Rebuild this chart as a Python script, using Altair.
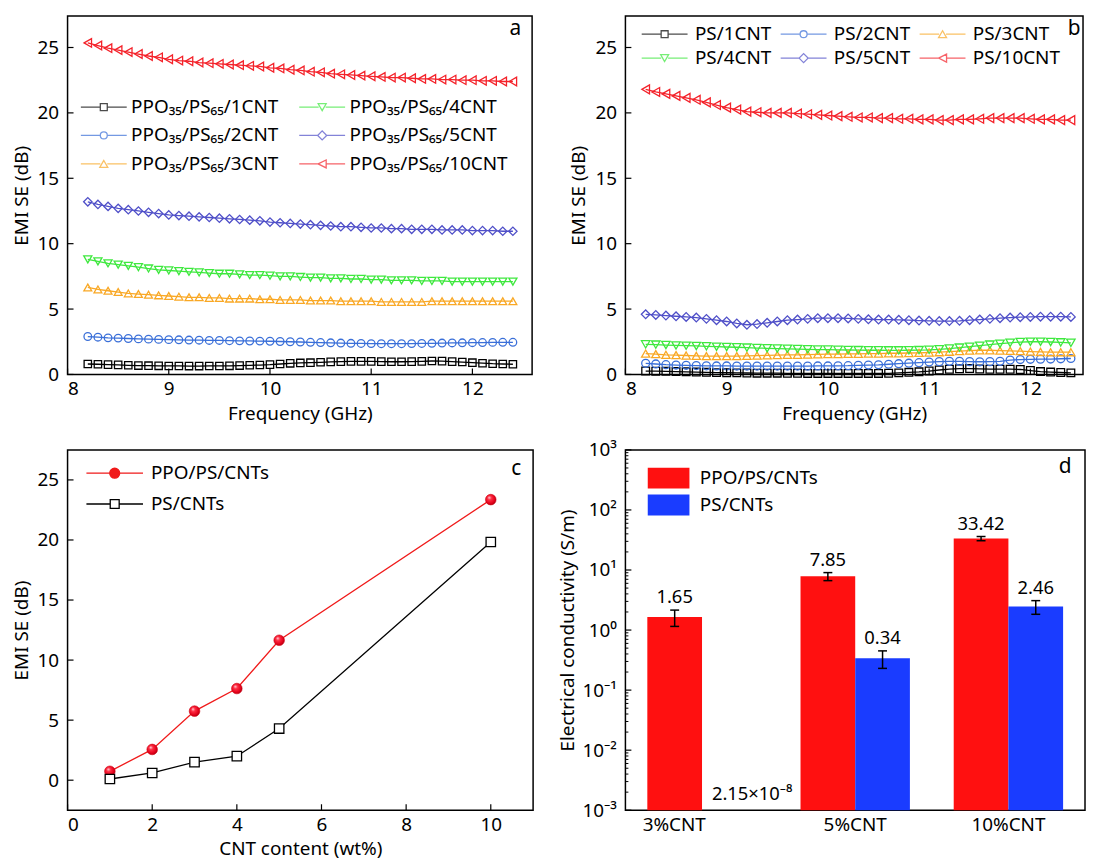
import json
import altair as alt
import pandas as pd

# ---------------- data ----------------
freq = [8.2, 8.3, 8.4, 8.5, 8.6, 8.7, 8.8, 8.9, 9.0, 9.1, 9.2, 9.3, 9.4, 9.5, 9.6,
        9.7, 9.8, 9.9, 10.0, 10.1, 10.2, 10.3, 10.4, 10.5, 10.6, 10.7, 10.8, 10.9,
        11.0, 11.1, 11.2, 11.3, 11.4, 11.5, 11.6, 11.7, 11.8, 11.9, 12.0, 12.1,
        12.2, 12.3, 12.4]

a_labels = ["PPO₃₅/PS₆₅/1CNT", "PPO₃₅/PS₆₅/2CNT", "PPO₃₅/PS₆₅/3CNT",
            "PPO₃₅/PS₆₅/4CNT", "PPO₃₅/PS₆₅/5CNT", "PPO₃₅/PS₆₅/10CNT"]
a_1 = [0.8, 0.78, 0.75, 0.73, 0.7, 0.68, 0.67, 0.66, 0.65, 0.65, 0.64, 0.64, 0.65, 0.65,
       0.66, 0.68, 0.7, 0.72, 0.75, 0.8, 0.85, 0.88, 0.9, 0.93, 0.96, 0.98, 1.0, 1.0,
       1.0, 0.98, 0.97, 0.97, 0.98, 1.0, 1.03, 1.02, 0.98, 0.95, 0.9, 0.86, 0.82, 0.8, 0.78]
a_2 = [2.9, 2.85, 2.8, 2.78, 2.75, 2.72, 2.7, 2.68, 2.66, 2.65, 2.63, 2.62, 2.6, 2.6,
       2.58, 2.57, 2.56, 2.55, 2.54, 2.52, 2.5, 2.48, 2.46, 2.44, 2.42, 2.4, 2.38, 2.37,
       2.36, 2.35, 2.35, 2.35, 2.36, 2.37, 2.38, 2.4, 2.41, 2.42, 2.43, 2.44, 2.45, 2.46, 2.46]
a_3 = [6.65, 6.5, 6.4, 6.3, 6.2, 6.15, 6.1, 6.05, 6.0, 5.95, 5.9, 5.9, 5.85, 5.85,
       5.8, 5.8, 5.8, 5.75, 5.75, 5.7, 5.7, 5.7, 5.65, 5.65, 5.65, 5.6, 5.6, 5.6,
       5.6, 5.55, 5.55, 5.55, 5.55, 5.55, 5.6, 5.6, 5.6, 5.6, 5.6, 5.6, 5.6, 5.6, 5.6]
a_4 = [8.8, 8.65, 8.5, 8.4, 8.3, 8.2, 8.1, 8.0, 7.95, 7.9, 7.85, 7.8, 7.75, 7.7,
       7.7, 7.65, 7.6, 7.6, 7.55, 7.5, 7.5, 7.45, 7.4, 7.4, 7.35, 7.35, 7.3, 7.3,
       7.25, 7.25, 7.2, 7.2, 7.2, 7.15, 7.15, 7.15, 7.1, 7.1, 7.1, 7.1, 7.1, 7.1, 7.1]
a_5 = [13.2, 13.0, 12.85, 12.7, 12.6, 12.5, 12.4, 12.3, 12.2, 12.15, 12.1, 12.05, 12.0, 11.95,
       11.9, 11.85, 11.8, 11.75, 11.65, 11.6, 11.55, 11.5, 11.45, 11.4, 11.35, 11.3, 11.3, 11.25,
       11.2, 11.2, 11.15, 11.15, 11.1, 11.1, 11.1, 11.05, 11.05, 11.05, 11.0, 11.0, 11.0, 10.95, 10.95]
a_10 = [25.35, 25.15, 24.95, 24.8, 24.65, 24.5, 24.35, 24.25, 24.1, 24.0, 23.95, 23.85, 23.8, 23.75,
        23.7, 23.65, 23.6, 23.55, 23.45, 23.4, 23.3, 23.25, 23.15, 23.1, 23.0, 22.95, 22.9, 22.85,
        22.8, 22.75, 22.7, 22.7, 22.65, 22.6, 22.6, 22.55, 22.55, 22.5, 22.5, 22.45, 22.45, 22.4, 22.4]

b_labels = ["PS/1CNT", "PS/2CNT", "PS/3CNT", "PS/4CNT", "PS/5CNT", "PS/10CNT"]
b_1 = [0.26, 0.25, 0.24, 0.22, 0.2, 0.18, 0.16, 0.14, 0.13, 0.12, 0.11, 0.1, 0.1, 0.1,
       0.09, 0.09, 0.08, 0.08, 0.08, 0.08, 0.08, 0.08, 0.08, 0.08, 0.09, 0.12, 0.16, 0.2,
       0.26, 0.34, 0.4, 0.44, 0.45, 0.42, 0.4, 0.4, 0.4, 0.38, 0.3, 0.22, 0.18, 0.15, 0.12]
b_2 = [0.85, 0.8, 0.75, 0.72, 0.7, 0.68, 0.66, 0.65, 0.65, 0.64, 0.64, 0.64, 0.64, 0.64,
       0.64, 0.64, 0.64, 0.65, 0.65, 0.66, 0.67, 0.7, 0.72, 0.74, 0.78, 0.82, 0.86, 0.9,
       0.95, 0.98, 1.0, 1.0, 0.98, 0.97, 0.98, 1.0, 1.1, 1.14, 1.16, 1.17, 1.18, 1.2, 1.22]
b_3 = [1.6, 1.55, 1.5, 1.48, 1.45, 1.42, 1.4, 1.4, 1.4, 1.4, 1.42, 1.44, 1.46, 1.48,
       1.5, 1.5, 1.52, 1.54, 1.55, 1.56, 1.57, 1.58, 1.6, 1.6, 1.62, 1.62, 1.64, 1.65,
       1.68, 1.7, 1.74, 1.78, 1.82, 1.85, 1.85, 1.82, 1.8, 1.78, 1.75, 1.72, 1.7, 1.7, 1.7]
b_4 = [2.3, 2.28, 2.25, 2.22, 2.2, 2.18, 2.15, 2.12, 2.1, 2.08, 2.05, 2.02, 2.0, 1.98,
       1.96, 1.94, 1.92, 1.9, 1.9, 1.88, 1.87, 1.86, 1.85, 1.85, 1.84, 1.84, 1.85, 1.86,
       1.88, 1.92, 1.98, 2.05, 2.12, 2.2, 2.28, 2.35, 2.42, 2.48, 2.5, 2.5, 2.48, 2.45, 2.42]
b_5 = [4.6, 4.55, 4.5, 4.45, 4.4, 4.35, 4.25, 4.15, 4.05, 3.9, 3.8, 3.85, 3.95, 4.05,
       4.15, 4.2, 4.25, 4.3, 4.3, 4.3, 4.28, 4.25, 4.22, 4.2, 4.2, 4.18, 4.15, 4.12,
       4.1, 4.08, 4.08, 4.1, 4.15, 4.2, 4.25, 4.3, 4.35, 4.38, 4.4, 4.42, 4.42, 4.42, 4.4]
b_10 = [21.8, 21.6, 21.45, 21.3, 21.15, 21.0, 20.8, 20.6, 20.4, 20.25, 20.1, 20.05, 20.0, 20.0,
        20.0, 19.95, 19.9, 19.85, 19.8, 19.75, 19.7, 19.65, 19.65, 19.6, 19.6, 19.55, 19.55, 19.5,
        19.5, 19.45, 19.45, 19.5, 19.5, 19.55, 19.6, 19.6, 19.6, 19.6, 19.55, 19.5, 19.5, 19.45, 19.45]

ab_ticks_x = [8, 9, 10, 11, 12]
ab_ticks_y = [0, 5, 10, 15, 20, 25]

c_labels = ["PPO/PS/CNTs", "PS/CNTs"]
c_x = [1, 2, 3, 4, 5, 10]
c_ppo = [0.74, 2.56, 5.75, 7.63, 11.65, 23.36]
c_ps = [0.1, 0.6, 1.5, 2.0, 4.3, 19.83]
c_ticks_x = [0, 2, 4, 6, 8, 10]
c_ticks_y = [0, 5, 10, 15, 20, 25]

d_cats = ["3%CNT", "5%CNT", "10%CNT"]
d_series = ["PPO/PS/CNTs", "PS/CNTs"]
d_ppo = [1.65, 7.85, 33.42]
d_ppo_err = [0.5, 1.2, 2.7]
d_ppo_txt = ["1.65", "7.85", "33.42"]
d_ps = [2.15e-8, 0.34, 2.46]
d_ps_err = [0.0, 0.11, 0.63]
d_ps_txt = ["2.15×10⁻⁸", "0.34", "2.46"]
d_ticks = [1e-3, 1e-2, 1e-1, 1e0, 1e1, 1e2, 1e3]
d_tick_labels = ["10⁻³", "10⁻²", "10⁻¹", "10⁰", "10¹", "10²", "10³"]
d_minor = [m * 10.0 ** e for e in range(-3, 3) for m in range(2, 10)]

# ---------------- styles ----------------
FONT = "Noto Sans"
LAB = 19
series_colors = ["#000000", "#3a6fd8", "#f9a825", "#3ee83e", "#4f4fc8", "#f4222a"]
series_shapes = ["square", "circle", "triangle-up", "triangle-down", "diamond", "triangle-left"]
sizes_a = [55, 75, 100, 100, 100, 100]
sizes_b = [60, 80, 130, 150, 115, 100]

marker_paths = {
    "square": "M-1,-1H1V1H-1Z",
    "circle": "M1,0A1,1,0,1,1,-1,0A1,1,0,1,1,1,0Z",
    "triangle-up": "M0,-1L-1.15,1L1.15,1Z",
    "triangle-down": "M0,1L-1.15,-1L1.15,-1Z",
    "diamond": "M-1.3,0L0,-1.3L1.3,0L0,1.3Z",
    "triangle-left": "M-1.15,0L1.15,-1.15L1.15,1.15Z",
}


def lined(shape, half):
    return f"M-{half},0H-1M1,0H{half}" + marker_paths[shape]


def long_df(labels, arrays):
    rows = []
    for lab, arr in zip(labels, arrays):
        for f, v in zip(freq, arr):
            rows.append({"f": f, "v": v, "s": lab})
    return pd.DataFrame(rows)


def tick_layers(xvals, yvals, X, Y, xf, yf, H, L=6):
    layers = []
    if yvals:
        layers.append(alt.Chart(pd.DataFrame({yf: yvals})).mark_rule(color="black", strokeWidth=1.2)
                      .encode(y=Y, x=alt.value(0), x2=alt.value(L)))
    if xvals:
        layers.append(alt.Chart(pd.DataFrame({xf: xvals})).mark_rule(color="black", strokeWidth=1.2)
                      .encode(x=X, y=alt.value(H), y2=alt.value(H - L)))
    return layers


def letter(t, x, y):
    return alt.Chart(pd.DataFrame({"t": [t]})).mark_text(
        fontSize=21, font=FONT, align="center", baseline="middle", color="black"
    ).encode(text="t:N", x=alt.value(x), y=alt.value(y))


def freq_panel(labels, arrays, W, H, xmax, sizes, leg_order, cols, lx, ly, colpad, rowpad, lofs, tag, tagx, tagy):
    df = long_df(labels, arrays)
    xs = alt.Scale(domain=[8, xmax], nice=False, zero=False)
    ys = alt.Scale(domain=[0, 27.4], nice=False)
    X = alt.X("f:Q", scale=xs, axis=alt.Axis(values=ab_ticks_x, title="Frequency (GHz)"))
    Y = alt.Y("v:Q", scale=ys, axis=alt.Axis(values=ab_ticks_y, title="EMI SE (dB)"))
    cscale = alt.Scale(domain=labels, range=series_colors)
    lines = alt.Chart(df).mark_line(strokeWidth=1.3).encode(
        x=X, y=Y, color=alt.Color("s:N", scale=cscale, legend=None))
    pts = alt.Chart(df).mark_point(filled=False, strokeWidth=1.3, opacity=1).encode(
        x=X, y=Y,
        color=alt.Color("s:N", scale=cscale, legend=None),
        shape=alt.Shape("s:N", scale=alt.Scale(domain=labels, range=series_shapes), legend=None),
        size=alt.Size("s:N", scale=alt.Scale(domain=labels, range=sizes), legend=None))
    idx = [labels.index(s) for s in leg_order]
    leg = alt.Legend(orient="none", legendX=lx, legendY=ly, columns=cols, title=None,
                     columnPadding=colpad, rowPadding=rowpad, labelFontSize=LAB, labelFont=FONT,
                     labelLimit=500, symbolSize=49, symbolStrokeWidth=1.3, labelOffset=lofs,
                     padding=0, symbolOffset=0, labelColor="black")
    legl = alt.Chart(df).transform_filter("false").mark_point(filled=False, strokeWidth=1.3, size=49).encode(
        x=X, y=Y,
        color=alt.Color("s:N", scale=alt.Scale(domain=leg_order, range=[series_colors[i] for i in idx]), legend=leg),
        shape=alt.Shape("s:N", scale=alt.Scale(domain=leg_order,
                                               range=[lined(series_shapes[i], 6.6) for i in idx]), legend=leg))
    layers = [lines, pts] + tick_layers(ab_ticks_x, ab_ticks_y, X, Y, "f", "v", H) + [legl, letter(tag, tagx, tagy)]
    return alt.layer(*layers).resolve_scale(color="independent", shape="independent", size="independent").properties(
        width=W, height=H)


WA, HA = 468, 361
WB = 461
pa = freq_panel(a_labels, [a_1, a_2, a_3, a_4, a_5, a_10], WA, HA, 12.59, sizes_a,
                a_labels, 2, 27, 82, 17, 8.7, 18, "a", WA - 17, 13)
pb = freq_panel(b_labels, [b_1, b_2, b_3, b_4, b_5, b_10], WB, HA, 12.52, sizes_b,
                [b_labels[0], b_labels[3], b_labels[1], b_labels[4], b_labels[2], b_labels[5]],
                3, 30, 8.5, 6, 4.3, 21, "b", WB - 9, 13)

# ---------------- panel c ----------------
WC, HC = 469, 363
dfc = pd.DataFrame({"x": c_x * 2, "v": c_ppo + c_ps,
                    "s": [c_labels[0]] * len(c_x) + [c_labels[1]] * len(c_x)})
xc = alt.X("x:Q", scale=alt.Scale(domain=[0, 11], nice=False),
           axis=alt.Axis(values=c_ticks_x, title="CNT content (wt%)"))
yc = alt.Y("v:Q", scale=alt.Scale(domain=[-2.5, 27.5], nice=False),
           axis=alt.Axis(values=c_ticks_y, title="EMI SE (dB)"))
red = "#f01a1a"
sphere = {"gradient": "radial", "x1": 0.35, "y1": 0.3, "r1": 0.0, "x2": 0.45, "y2": 0.45, "r2": 0.6,
          "stops": [{"offset": 0.0, "color": "#ffe0e6"}, {"offset": 0.3, "color": "#ff3045"},
                    {"offset": 0.75, "color": "#e4001a"}, {"offset": 1.0, "color": "#a00012"}]}
c_line_ppo = alt.Chart(dfc).transform_filter(alt.datum.s == c_labels[0]).mark_line(
    strokeWidth=1.3, color=red).encode(x=xc, y=yc)
c_line_ps = alt.Chart(dfc).transform_filter(alt.datum.s == c_labels[1]).mark_line(
    strokeWidth=1.3, color="black").encode(x=xc, y=yc)
c_sph = alt.Chart(dfc).transform_filter(alt.datum.s == c_labels[0]).mark_point(
    shape="circle", filled=True, fill=sphere, stroke="#d00010", strokeWidth=0.6, size=115, opacity=1
).encode(x=xc, y=yc)
c_sq = alt.Chart(dfc).transform_filter(alt.datum.s == c_labels[1]).mark_point(
    shape="square", filled=True, fill="white", stroke="black", strokeWidth=1.3, size=90, opacity=1
).encode(x=xc, y=yc)
leg_c = alt.Legend(orient="none", legendX=38, legendY=14, title=None, rowPadding=11, labelFontSize=LAB,
                   labelFont=FONT, labelLimit=500, symbolSize=100, symbolStrokeWidth=1.3, labelOffset=27,
                   padding=0, symbolOffset=0, labelColor="black")
c_leg = alt.Chart(dfc).transform_filter("false").mark_point(filled=True, strokeWidth=1.3, size=100, opacity=1).encode(
    x=xc, y=yc,
    fill=alt.Fill("s:N", scale=alt.Scale(domain=c_labels, range=[red, "#ffffff"]), legend=leg_c),
    stroke=alt.Stroke("s:N", scale=alt.Scale(domain=c_labels, range=[red, "#000000"]), legend=leg_c),
    shape=alt.Shape("s:N", scale=alt.Scale(domain=c_labels, range=[
        "M-5.7,0H-1M1,0H5.7M1,0A1,1,0,1,1,-1,0A1,1,0,1,1,1,0Z",
        "M-5.7,0H-0.9M0.9,0H5.7M-0.9,-0.9H0.9V0.9H-0.9Z"]), legend=leg_c))
pc = alt.layer(c_line_ppo, c_line_ps, c_sph, c_sq, *tick_layers(c_ticks_x, c_ticks_y, xc, yc, "x", "v", HC), c_leg,
               letter("c", WC - 17, 19)).properties(width=WC, height=HC)

# ---------------- panel d ----------------
WD, HD = 463, 363
dfd = pd.DataFrame({
    "c": d_cats * 2,
    "s": [d_series[0]] * 3 + [d_series[1]] * 3,
    "v": d_ppo + d_ps,
    "e": d_ppo_err + d_ps_err,
    "txt": d_ppo_txt + d_ps_txt,
})
dfd["lo"] = dfd["v"] - dfd["e"]
dfd["hi"] = dfd["v"] + dfd["e"]
expr = "[" + ",".join(json.dumps(t, ensure_ascii=False) for t in d_tick_labels) + "][round(log(datum.value)/LN10)+3]"
ysd = alt.Scale(type="log", domain=[1e-3, 1e3], nice=False, clamp=True)
yaxis_d = alt.Axis(values=d_ticks, labelExpr=expr, title="Electrical conductivity (S/m)", titlePadding=4)
xd = alt.X("c:N", sort=d_cats, scale=alt.Scale(paddingInner=0.286, paddingOuter=0.143),
           axis=alt.Axis(title=None, labelAngle=0,
                         labelOffset={"condition": {"test": "datum.value === '3%CNT'", "value": -28}, "value": 0}))
xo = alt.XOffset("s:N", sort=d_series, scale=alt.Scale(domain=d_series, paddingInner=0, paddingOuter=0))
yd = alt.Y("v:Q", scale=ysd, axis=yaxis_d)
leg_d = alt.Legend(orient="none", legendX=33, legendY=18, title=None, rowPadding=6, labelFontSize=LAB,
                   labelFont=FONT, labelLimit=500, symbolSize=441, symbolType="M-2,-1H2V1H-2Z",
                   symbolStrokeWidth=0, labelOffset=21, padding=0, symbolOffset=0, labelColor="black")
d_bars = alt.Chart(dfd).mark_bar(opacity=1).encode(
    x=xd, xOffset=xo, y=yd, y2=alt.datum(1e-3),
    color=alt.Color("s:N", scale=alt.Scale(domain=d_series, range=["#ff1010", "#1a3cff"]), legend=leg_d))
d_err = dfd[dfd["e"] > 0]
d_rule = alt.Chart(d_err).mark_rule(color="black", strokeWidth=1.5).encode(
    x=xd, xOffset=xo, y=alt.Y("lo:Q", scale=ysd, axis=yaxis_d), y2="hi:Q")
d_cap_lo = alt.Chart(d_err).mark_tick(color="black", thickness=1.5, size=9, opacity=1).encode(
    x=xd, xOffset=xo, y=alt.Y("lo:Q", scale=ysd, axis=yaxis_d))
d_cap_hi = alt.Chart(d_err).mark_tick(color="black", thickness=1.5, size=9, opacity=1).encode(
    x=xd, xOffset=xo, y=alt.Y("hi:Q", scale=ysd, axis=yaxis_d))
d_txt = alt.Chart(dfd[dfd["v"] >= 1e-3]).mark_text(fontSize=18.5, font=FONT, dy=-13, color="black").encode(
    x=xd, xOffset=xo, y=alt.Y("hi:Q", scale=ysd, axis=yaxis_d), text="txt:N")
d_txt_small = alt.Chart(dfd[dfd["v"] < 1e-3]).mark_text(fontSize=18.5, font=FONT, dy=-16, dx=23, color="black").encode(
    x=xd, xOffset=xo, y=yd, text="txt:N")
d_major = alt.Chart(pd.DataFrame({"v": d_ticks})).mark_rule(color="black", strokeWidth=1.2).encode(
    y=yd, x=alt.value(0), x2=alt.value(6))
d_minor_l = alt.Chart(pd.DataFrame({"v": d_minor})).mark_rule(color="black", strokeWidth=1).encode(
    y=yd, x=alt.value(0), x2=alt.value(3))
pd_ = alt.layer(d_bars, d_rule, d_cap_lo, d_cap_hi, d_txt, d_txt_small, d_major, d_minor_l,
                letter("d", WD - 20, 17)).properties(width=WD, height=HD)

chart = alt.concat(pa, pb, pc, pd_, columns=2, spacing={"row": 16, "column": 24}).resolve_scale(
    color="independent", shape="independent", size="independent", fill="independent", stroke="independent"
).properties(
    padding={"left": 3, "top": 4, "right": 0, "bottom": 0}
).configure(font=FONT).configure_view(stroke="black", strokeWidth=1.5).configure_axis(
    grid=False, domain=False, ticks=False, labelFont=FONT, titleFont=FONT, labelFontSize=LAB,
    titleFontSize=LAB, labelColor="black", titleColor="black", titleFontWeight="normal"
).configure_axisX(labelPadding=5, titlePadding=6).configure_axisY(labelPadding=9, titlePadding=6)

chart.save("out.html", embed_options={"renderer": "svg", "actions": False})
